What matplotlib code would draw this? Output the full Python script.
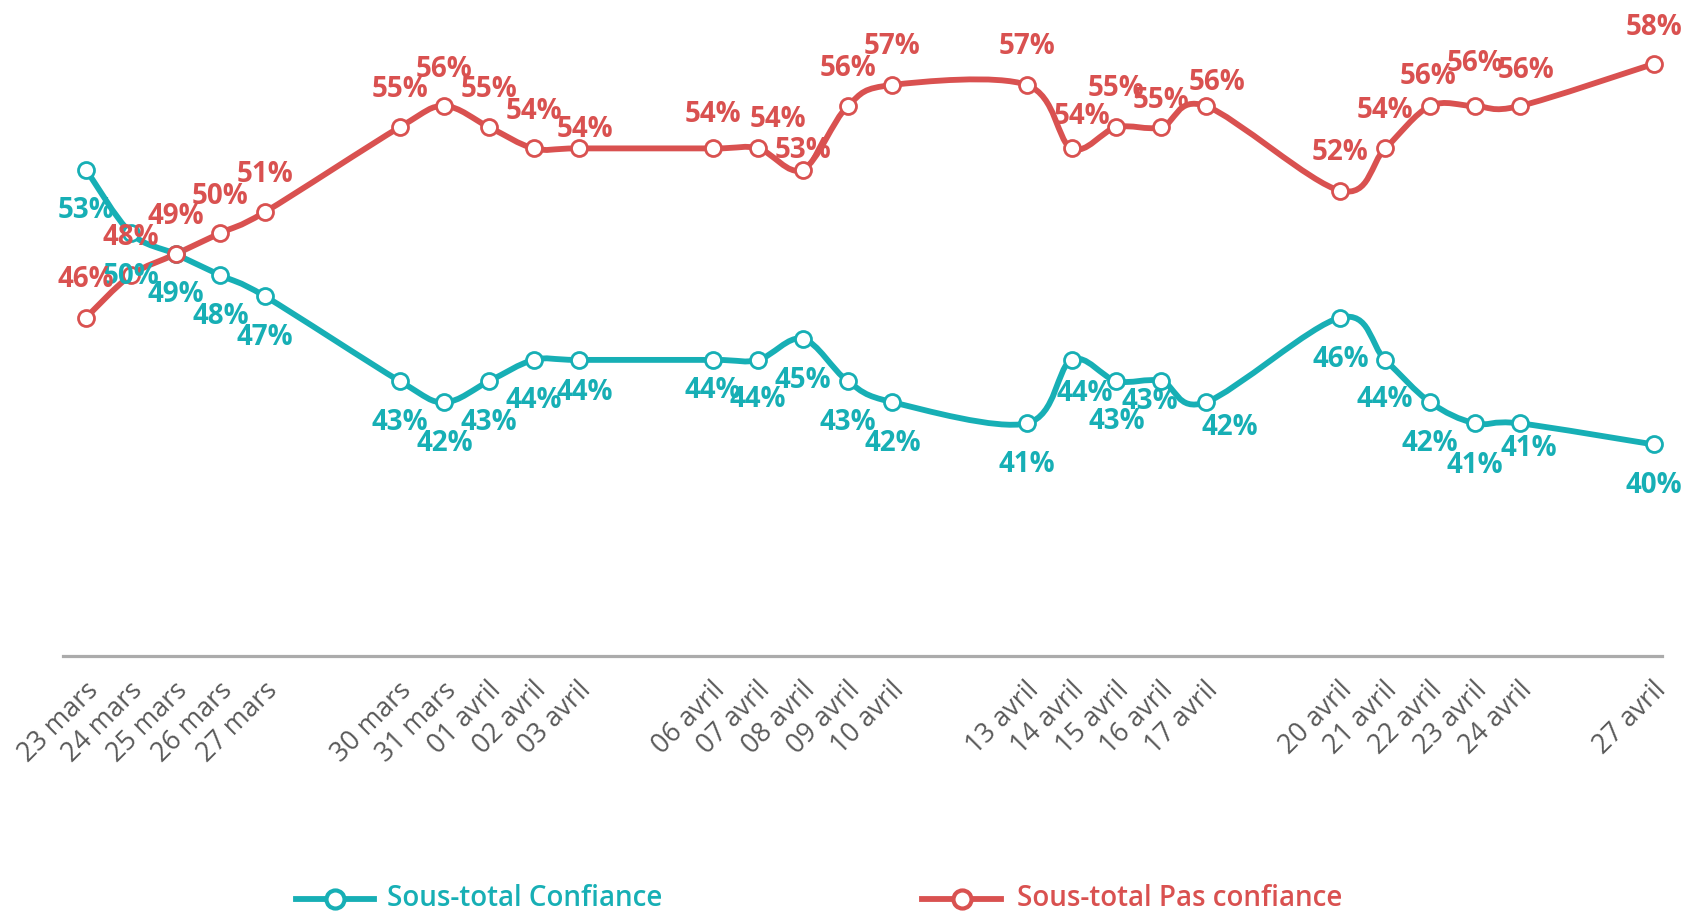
import matplotlib
matplotlib.use("Agg")
import matplotlib.pyplot as plt
import numpy as np
import datetime as dt
from matplotlib.path import Path
from matplotlib.patches import PathPatch
from matplotlib.lines import Line2D
import matplotlib.transforms as mtransforms

# ---------------- data ----------------
dates = ["2020-03-23", "2020-03-24", "2020-03-25", "2020-03-26", "2020-03-27",
         "2020-03-30", "2020-03-31", "2020-04-01", "2020-04-02", "2020-04-03",
         "2020-04-06", "2020-04-07", "2020-04-08", "2020-04-09", "2020-04-10",
         "2020-04-13", "2020-04-14", "2020-04-15", "2020-04-16", "2020-04-17",
         "2020-04-20", "2020-04-21", "2020-04-22", "2020-04-23", "2020-04-24",
         "2020-04-27"]
tick_labels = ["23 mars", "24 mars", "25 mars", "26 mars", "27 mars",
               "30 mars", "31 mars", "01 avril", "02 avril", "03 avril",
               "06 avril", "07 avril", "08 avril", "09 avril", "10 avril",
               "13 avril", "14 avril", "15 avril", "16 avril", "17 avril",
               "20 avril", "21 avril", "22 avril", "23 avril", "24 avril",
               "27 avril"]
confiance = [53, 50, 49, 48, 47, 43, 42, 43, 44, 44, 44, 44, 45, 43, 42,
             41, 44, 43, 43, 42, 46, 44, 42, 41, 41, 40]
pas_confiance = [46, 48, 49, 50, 51, 55, 56, 55, 54, 54, 54, 54, 53, 56, 57,
                 57, 54, 55, 55, 56, 52, 54, 56, 56, 56, 58]
series_names = ["Sous-total Confiance", "Sous-total Pas confiance"]

# label offsets (pixels) relative to each point
off_conf = [(0, -41), (0, -43), (0, -40), (0, -41), (0, -41),
            (0, -41), (0, -41), (0, -41), (0, -41), (6, -33),
            (0, -31), (0, -40), (0, -42), (0, -41), (0, -41),
            (0, -41), (13, -34), (0, -40), (-11, -20), (24, -25),
            (0, -42), (0, -40), (0, -41), (0, -42), (9, -25),
            (0, -41)]
off_pas = [(0, 38), (0, 38), (0, 38), (0, 37), (0, 37),
           (0, 38), (0, 37), (0, 38), (0, 37), (6, 19),
           (0, 34), (20, 29), (0, 19), (0, 38), (0, 38),
           (0, 38), (10, 32), (0, 39), (0, 27), (11, 24),
           (0, 38), (0, 38), (-2, 30), (0, 43), (6, 36),
           (0, 36)]

TEAL = "#17AFB5"
RED = "#D95150"
GREY_TXT = "#595959"
AXIS_GREY = "#ABABAB"

W, H = 1687, 919
fig = plt.figure(figsize=(W / 100, H / 100), dpi=100)
fig.patch.set_facecolor("white")

ax_left, ax_right, ax_bottom_px = 63, 1662, 656
ax = fig.add_axes([ax_left / W, (H - ax_bottom_px) / H,
                   (ax_right - ax_left) / W, ax_bottom_px / H])

d0 = dt.date(2020, 3, 23)
xdays = np.array([(dt.date.fromisoformat(d) - d0).days for d in dates], float)

px_per_day = (1654 - 86) / 35.0
ax.set_xlim((ax_left - 86) / px_per_day, (ax_right - 86) / px_per_day)
px_per_pct = 21.15
ax.set_ylim(30, 30 + ax_bottom_px / px_per_pct)


def smooth_path(x, y):
    pts = np.column_stack([x, y])
    n = len(pts)
    verts = [pts[0]]
    codes = [Path.MOVETO]
    for i in range(n - 1):
        p0 = pts[i - 1] if i > 0 else pts[i]
        p1 = pts[i]
        p2 = pts[i + 1]
        p3 = pts[i + 2] if i + 2 < n else pts[i + 1]
        c1 = p1 + (p2 - p0) / 6.0
        c2 = p2 - (p3 - p1) / 6.0
        verts += [c1, c2, p2]
        codes += [Path.CURVE4] * 3
    return Path(verts, codes)


for vals, col, offs in [(confiance, TEAL, off_conf), (pas_confiance, RED, off_pas)]:
    path = smooth_path(xdays, np.array(vals, float))
    ax.add_patch(PathPatch(path, facecolor="none", edgecolor=col, lw=4.2,
                           capstyle="round", joinstyle="round", zorder=3))
    ax.plot(xdays, vals, linestyle="none", marker="o", markersize=11.5,
            markerfacecolor="white", markeredgecolor=col, markeredgewidth=2.0,
            zorder=4, clip_on=False)
    for xi, v, (dx, dy) in zip(xdays, vals, offs):
        ax.annotate(f"{v}%", (xi, v), xytext=(dx, dy), textcoords="offset pixels",
                    ha="center", va="center", color=col, fontsize=20,
                    fontweight="bold", family="Open Sans", zorder=5,
                    annotation_clip=False)

for s in ["top", "left", "right"]:
    ax.spines[s].set_visible(False)
ax.spines["bottom"].set_color(AXIS_GREY)
ax.spines["bottom"].set_linewidth(2.3)
ax.set_yticks([])
ax.set_xticks(xdays)
ax.set_xticklabels(tick_labels, rotation=45, ha="right", va="center",
                   rotation_mode="anchor", color=GREY_TXT, fontsize=19.3,
                   family="Open Sans")
ax.tick_params(axis="x", length=0, pad=22)
shift = mtransforms.ScaledTranslation(8 / 100, 0, fig.dpi_scale_trans)
for lab in ax.get_xticklabels():
    lab.set_transform(lab.get_transform() + shift)
ax.patch.set_visible(False)

# legend
ly = (H - 899) / H
for (x0, x1, xt, name, col) in [(296, 374, 387, series_names[0], TEAL),
                                 (922, 1001, 1017, series_names[1], RED)]:
    fig.add_artist(Line2D([x0 / W, x1 / W], [ly, ly], color=col, lw=4.2,
                          transform=fig.transFigure))
    fig.add_artist(Line2D([(x0 + x1) / 2 / W], [ly], color=col, marker="o",
                          markersize=13, markerfacecolor="white",
                          markeredgewidth=3, transform=fig.transFigure))
    fig.text(xt / W, ly, name, color=col, fontsize=20,
             fontweight="semibold", family="Open Sans", ha="left", va="center")

fig.savefig("out.png", dpi=100, facecolor="white")
